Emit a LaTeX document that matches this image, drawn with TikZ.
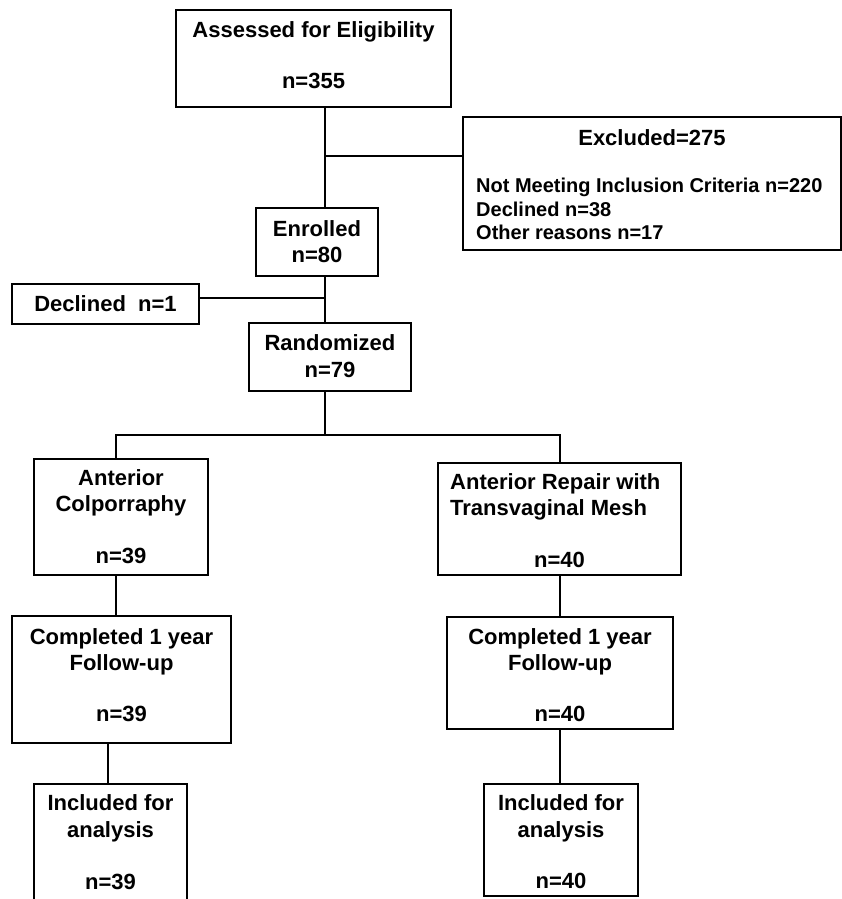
\documentclass[tikz,border=0pt]{standalone}
\usepackage{fontspec}
\setmainfont{Liberation Sans}
\begin{document}
\begin{tikzpicture}[
        % 全局設定:1 單位 = 1pt,y 向下
        x=1pt, y=-1pt,
        % 方框樣式:黑框白底
        flowbox/.style={
            rectangle,
            draw=black,
            line width=2pt,
            inner sep=0pt
        },
        % 連線樣式
        link/.style={
            draw=black,
            line width=1.8pt
        },
        % 框內文字樣式 (錨點 = 最後一行基線)
        box_text/.style={
            font=\fontsize{22}{26.5}\selectfont\bfseries,
            inner sep=0pt,
            align=center,
            anchor=base
        },
        % 排除原因文字 (靠左)
        reason_text/.style={
            font=\fontsize{20}{23.3}\selectfont\bfseries,
            inner sep=0pt,
            align=left,
            anchor=base west
        }
    ]
        \useasboundingbox (0,0) rectangle (842,899);

        % ==========================
        % 上半部:篩選與隨機分配
        % ==========================
        % 1. 方框
        \node[flowbox, minimum width=275pt, minimum height=97pt] (assess) at (313.5,58.5) {};
        \node[flowbox, minimum width=378pt, minimum height=133pt] (excl) at (652,183.5) {};
        \node[flowbox, minimum width=122pt, minimum height=68pt] (enrol) at (317,242) {};
        \node[flowbox, minimum width=187pt, minimum height=40pt] (decl) at (105.5,304) {};
        \node[flowbox, minimum width=162pt, minimum height=68pt] (rand) at (330,356.7) {};

        % 2. 文字
        \node[box_text] (assess_t) at (313.5,37.7) {Assessed for Eligibility};
        \node[box_text] (assess_n) at (313.5,88.7) {n=355};
        \node[box_text] (excl_t) at (652,145) {Excluded=275};
        \node[reason_text] (excl_r) at (476,239.3) {Not Meeting Inclusion Criteria n=220\\Declined n=38\\Other reasons n=17};
        \node[box_text] (enrol_t) at (317,262.5) {Enrolled\\n=80};
        \node[box_text] (decl_t) at (105.5,311.7) {Declined~ n=1};
        \node[box_text] (rand_t) at (330,377.2) {Randomized\\n=79};

        % 3. 連線 (主幹 x=325)
        \coordinate (spine) at (325,0);
        \coordinate (ex_join) at (325,155.7);
        \coordinate (dec_join) at (325,298.3);
        \draw[link] (assess.south -| spine) -- (enrol.north -| spine);
        \draw[link] (ex_join) -- (ex_join -| excl.west);
        \draw[link] (enrol.south -| spine) -- (rand.north -| spine);
        \draw[link] (dec_join) -- (dec_join -| decl.east);

        % ==========================
        % 下半部:兩組
        % ==========================
        % 1. 方框
        \node[flowbox, minimum width=174pt, minimum height=116.3pt] (ac) at (121,517.2) {};
        \node[flowbox, minimum width=243pt, minimum height=112.6pt] (artm) at (559.5,519) {};
        \node[flowbox, minimum width=219pt, minimum height=127pt] (cl) at (121.5,679.5) {};
        \node[flowbox, minimum width=226pt, minimum height=112pt] (cr) at (560,672.7) {};
        \node[flowbox, minimum width=153pt, minimum height=122pt] (il) at (110.5,844.7) {};
        \node[flowbox, minimum width=153.6pt, minimum height=112pt] (ir) at (561.2,839.7) {};

        % 2. 文字
        \node[box_text] (ac_t) at (121,511.5) {Anterior\\Colporraphy};
        \node[box_text] (ac_n) at (121,563.3) {n=39};
        \node[box_text, align=left, anchor=base west] (artm_t) at (450,515.8) {Anterior Repair with\\Transvaginal Mesh};
        \node[box_text] (artm_n) at (559.5,567.3) {n=40};
        \node[box_text] (cl_t) at (121.5,670.5) {Completed 1 year\\Follow-up};
        \node[box_text] (cl_n) at (121.5,721.7) {n=39};
        \node[box_text] (cr_t) at (560,670.5) {Completed 1 year\\Follow-up};
        \node[box_text] (cr_n) at (560,721.7) {n=40};
        \node[box_text] (il_t) at (110.5,837.2) {Included for\\analysis};
        \node[box_text] (il_n) at (110.5,889.3) {n=39};
        \node[box_text] (ir_t) at (561,837.2) {Included for\\analysis};
        \node[box_text] (ir_n) at (561,888) {n=40};

        % 3. 連線
        \coordinate (split) at (325,435);
        \coordinate (l_split) at (116,435);
        \coordinate (r_split) at (560,435);
        \coordinate (l_low) at (108,0);
        \draw[link] (rand.south -| spine) -- (split);
        \draw[link] (ac.north -| l_split) -- (l_split) -- (r_split) -- (artm.north -| r_split);
        \draw[link] (ac.south -| l_split) -- (cl.north -| l_split);
        \draw[link] (artm.south -| r_split) -- (cr.north -| r_split);
        \draw[link] (cl.south -| l_low) -- (il.north -| l_low);
        \draw[link] (cr.south -| r_split) -- (ir.north -| r_split);

    \end{tikzpicture}
\end{document}
